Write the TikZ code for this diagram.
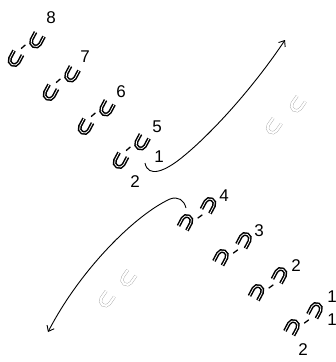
\documentclass[tikz,border=0pt]{standalone}
\usepackage{fontspec}
\setmainfont{Liberation Sans}
\usetikzlibrary{arrows.meta,calc}
\tikzset{
  x=1pt,y=1pt,
  base/.style={line width=1.5pt, double=white, double distance=0.8pt},
  ghost/.style={draw=black!35, line width=0.4pt, double=white, double distance=2.2pt},
  lbl/.style={font=\fontsize{17}{17}\selectfont, inner sep=0pt},
  dashline/.style={line width=1.3pt},
  arrowline/.style={line width=0.9pt, -{Straight Barb[length=5pt,width=8pt]}},
  pics/uglyph/.style={code={\draw[base, rotate=-28] (-4.8,7) -- (-4.8,-1.5) arc[start angle=180,end angle=360,radius=4.8] -- (4.8,7);}},
  pics/nglyph/.style={code={\draw[base, rotate=-28] (-4.8,-7) -- (-4.8,1.5) arc[start angle=180,end angle=0,radius=4.8] -- (4.8,-7);}},
  pics/gglyph/.style={code={\draw[ghost, rotate=-35] (-5,7.5) -- (-5,-1) arc[start angle=180,end angle=360,radius=5] -- (5,7.5);}},
}
\begin{document}
\begin{tikzpicture}
\useasboundingbox (0,0) rectangle (336,-362);
% U-U pairs
\foreach \n/\x/\y in {8/15/59, 7/50/93, 6/85/127, 5/120/161}{
  \coordinate (u\n a) at (\x,-\y);
  \coordinate (u\n b) at ($(u\n a)+(21.5,18.5)$);
  \pic at (u\n a) {uglyph};
  \pic at (u\n b) {uglyph};
  \draw[dashline] ($(u\n a)!0.4!(u\n b)+(-2.5,3)$) -- ($(u\n a)!0.6!(u\n b)+(-2.5,3)$);
}
% n-n pairs
\foreach \n/\x/\y in {4/186/222, 3/221.5/257, 2/257/292, 1/292.5/327}{
  \coordinate (n\n a) at (\x,-\y);
  \coordinate (n\n b) at ($(n\n a)+(23,17)$);
  \pic at (n\n a) {nglyph};
  \pic at (n\n b) {nglyph};
  \draw[dashline] ($(n\n a)!0.4!(n\n b)+(2.5,-3)$) -- ($(n\n a)!0.6!(n\n b)+(2.5,-3)$);
}
% ghost glyphs
\pic at (273,-127) {gglyph};
\pic at (297,-105) {gglyph};
\pic at (106,-300) {gglyph};
\pic at (127.5,-279) {gglyph};
% labels
\node[lbl] (l8) at (51,-18) {8};
\node[lbl] (l7) at (85,-57) {7};
\node[lbl] (l6) at (121,-92) {6};
\node[lbl] (l5) at (157,-127) {5};
\node[lbl] (l5s) at (159,-157) {1};
\node[lbl] (l5t) at (135,-182) {2};
\node[lbl] (l4) at (224,-196) {4};
\node[lbl] (l3) at (259,-231) {3};
\node[lbl] (l2) at (296,-266) {2};
\node[lbl] (l1) at (332,-297) {1};
\node[lbl] (l1s) at (332,-320) {1};
\node[lbl] (l1t) at (303,-350) {2};
% arrows
\coordinate (s1) at (145,-163);
\coordinate (m1) at (185,-155);
\coordinate (e1) at (285,-40);
\draw[arrowline] (s1) .. controls (148,-178) and (165,-172) .. (m1) .. controls (215,-130) and (255,-85) .. (e1);
\coordinate (s2) at (186,-208);
\coordinate (m2) at (170,-199);
\coordinate (e2) at (48,-332);
\draw[arrowline] (s2) .. controls (184,-200) and (178,-196) .. (m2) .. controls (135,-215) and (80,-270) .. (e2);
\end{tikzpicture}
\end{document}
